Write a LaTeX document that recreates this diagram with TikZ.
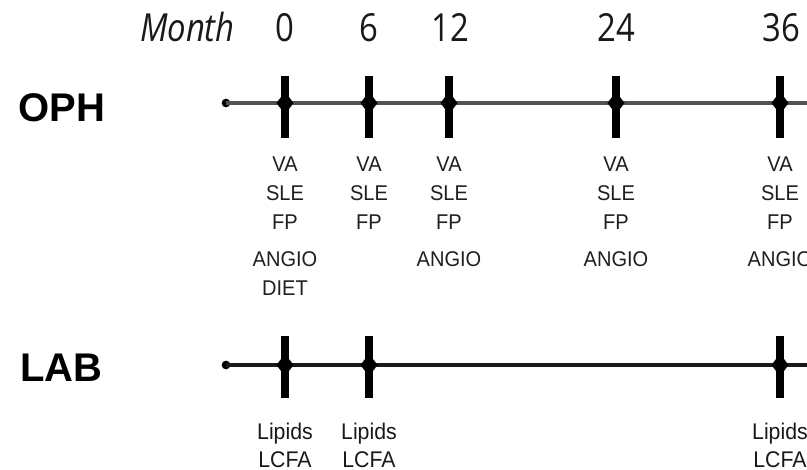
\documentclass[tikz,border=0pt]{standalone}
\usepackage{fontspec}
\setmainfont{Liberation Sans}
\newfontfamily\numfont[FakeStretch=0.85]{Open Sans}
\newfontfamily\itemfont[FakeStretch=0.94]{Liberation Sans}
\usetikzlibrary{shapes.geometric}
\begin{document}
\begin{tikzpicture}[x=0.75pt,y=-0.75pt,
  rowlbl/.style={font=\fontsize{30}{30}\selectfont\bfseries, anchor=base west, inner sep=0pt},
  num/.style={font=\numfont\fontsize{29}{29}\selectfont, text=black!90, anchor=base, inner sep=0pt},
  item/.style={font=\itemfont\fontsize{16}{16}\selectfont, text=black!88, anchor=base, inner sep=0pt},
  labitem/.style={font=\itemfont\fontsize{17}{17}\selectfont, text=black!90, anchor=base, inner sep=0pt},
  bar/.style={rectangle, fill=black, minimum width=6.5pt, minimum height=47pt, inner sep=0pt},
  knot/.style={diamond, fill=black, minimum width=13pt, minimum height=17pt, inner sep=0pt},
  startdot/.style={circle, fill=black, minimum size=6.5pt, inner sep=0pt},
  ophline/.style={line width=2.8pt, draw=black!68},
  labline/.style={line width=2.6pt, draw=black!90}]
\useasboundingbox (0,0) rectangle (807,470);

% header
\node[font=\numfont\itshape\fontsize{29}{29}\selectfont, text=black!90, anchor=base east, inner sep=0pt] (month) at (235,42) {Month};
\node[num] (m0) at (285,42) {0};
\node[num] (m6) at (369,42) {6};
\node[num] (m12) at (450,42) {12};
\node[num] (m24) at (616,42) {24};
\node[num] (m36) at (781,42) {36};

% row labels
\node[rowlbl] (oph) at (18,122) {OPH};
\node[rowlbl] (lab) at (20,382) {LAB};

% OPH timeline
\node[startdot] (ophdot) at (226,103) {};
\coordinate (ophend) at (807,103);
\draw[ophline] (ophdot.center) -- (ophend);
\foreach \n/\x in {a/285,b/369,c/449,d/616,e/780}{
  \node[bar] (ophbar\n) at (\x,107) {};
  \node[knot] (ophknot\n) at (\x,103) {};
}

% OPH items
\foreach \n/\x in {a/285,b/369,c/449,d/616,e/780}{
  \node[item] (va\n) at (\x,172) {VA};
  \node[item] (sle\n) at (\x,201) {SLE};
  \node[item] (fp\n) at (\x,230) {FP};
}
\foreach \n/\x in {a/285,c/449,d/616,e/780}{
  \node[item] (angio\n) at (\x,267) {ANGIO};
}
\node[item] (diet) at (285,296) {DIET};

% LAB timeline
\node[startdot] (labdot) at (226,365) {};
\coordinate (labend) at (807,365);
\draw[labline] (labdot.center) -- (labend);
\foreach \n/\x in {a/285,b/369,e/780}{
  \node[bar] (labbar\n) at (\x,367) {};
  \node[knot] (labknot\n) at (\x,365) {};
  \node[labitem] (lip\n) at (\x,439) {Lipids};
  \node[labitem] (lcfa\n) at (\x,467) {LCFA};
}
\end{tikzpicture}
\end{document}
